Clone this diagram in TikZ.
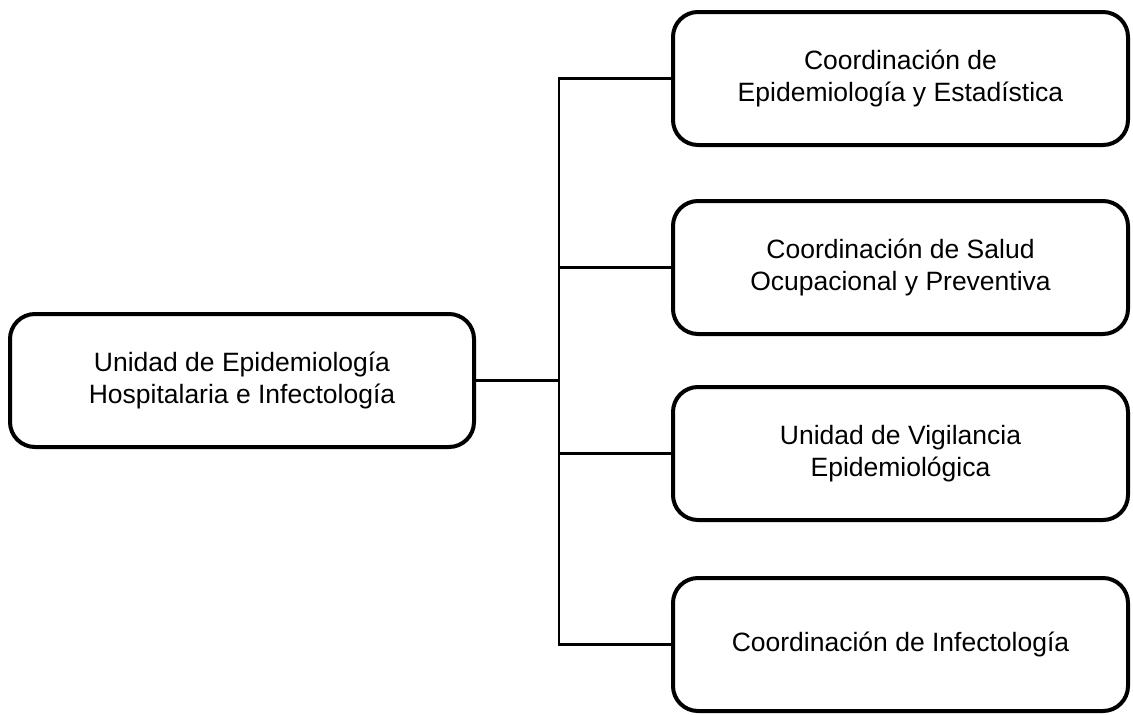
\documentclass[tikz,border=0pt]{standalone}
\usepackage{fontspec}
\setmainfont{Liberation Sans}
\begin{document}
\begin{tikzpicture}[x=1pt,y=-1pt,
  box/.style={draw=black, line width=4pt, rounded corners=25pt, align=center,
    font=\fontsize{26.5}{32.5}\selectfont, inner sep=0pt},
  leftbox/.style={box, minimum width=464pt, minimum height=133pt},
  rightbox/.style={box, minimum width=455pt, minimum height=133pt},
  link/.style={draw=black, line width=2.6pt, line join=miter}]
\useasboundingbox (0,0) rectangle (1133,715);
\fill[white] (0,0) rectangle (1133,715);
\node[leftbox] (L) at (242,380.5) {Unidad de Epidemiología\\Hospitalaria e Infectología};
\node[rightbox] (R1) at (900.5,78.5) {Coordinación de\\Epidemiología y Estadística};
\node[rightbox] (R2) at (900.5,267.5) {Coordinación de Salud\\Ocupacional y Preventiva};
\node[rightbox] (R3) at (900.5,453.5) {Unidad de Vigilancia\\Epidemiológica};
\node[rightbox] (R4) at (900.5,644.5) {Coordinación de Infectología};
\coordinate (J) at (559,380.5);
\draw[link] (L.east) -- (J);
\draw[link] (R1.west) -| (J) |- (R4.west);
\draw[link] (R2.west) -| (J);
\draw[link] (R3.west) -| (J);
\end{tikzpicture}
\end{document}
